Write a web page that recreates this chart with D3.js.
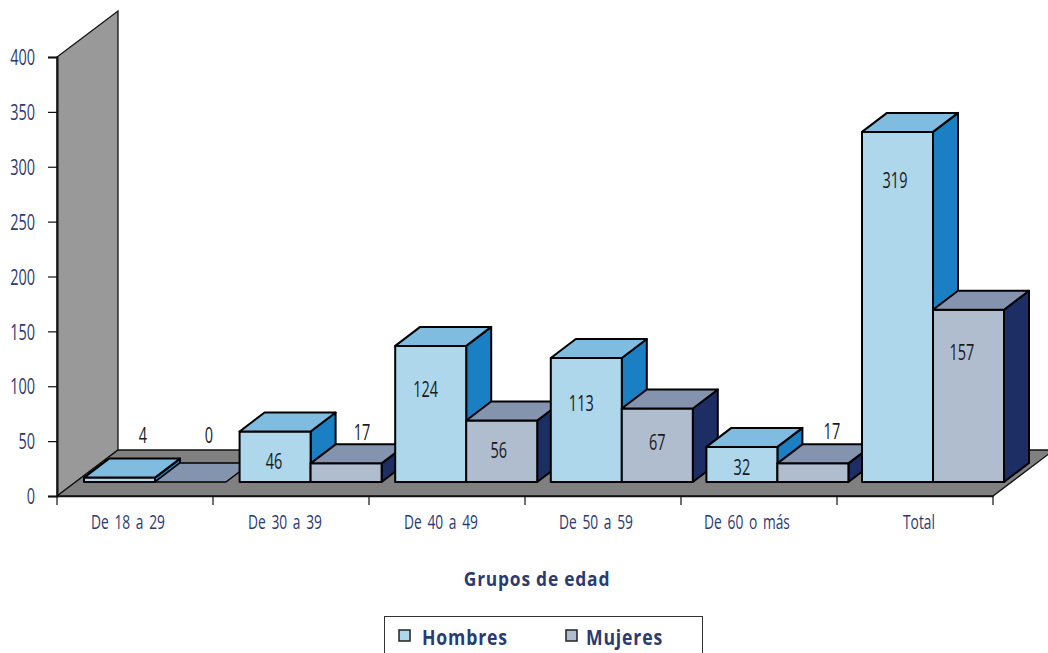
<!DOCTYPE html>
<html><head><meta charset="utf-8">
<script src="https://cdn.jsdelivr.net/npm/d3@7/dist/d3.min.js"></script>
<style>html,body{margin:0;padding:0;background:#fff;overflow:hidden}svg{display:block}
text{font-family:"Open Sans","Noto Sans",sans-serif}</style>
</head><body><svg id="c" width="1048" height="653"></svg>
<script>
const categories=["De 18 a 29","De 30 a 39","De 40 a 49","De 50 a 59","De 60 o más","Total"];
const hombres=[4,46,124,113,32,319];
const mujeres=[0,17,56,67,17,157];
const seriesNames=["Hombres","Mujeres"];
const yTicks=[0,50,100,150,200,250,300,350,400];
const axisTitle="Grupos de edad";

// layout
const depthX=61,depthY=46,barDX=25,barDY=19,lift=14,barW=71,narrow=0.69;
const labelNudgeH=[[23.5,-40],[-1,32],[-5,45],[-5,47],[0,23],[-2.5,50]];
const labelNudgeM=[[18.5,-45],[16,-29],[-3,32],[0,36],[19,-30],[-6.5,45]];
const catNudge=[-7,-6,-6,-7,-12,4];
const navy="#2b3b6f",ink="#1a1a1c";
const palette=[{front:"#aed7ec",top:"#7fbce0",side:"#1b80c3"},{front:"#b0bdcf",top:"#8494ae",side:"#1c2e64"}];

const svg=d3.select("#c");
const x=d3.scaleBand().domain(categories).range([57,993]);
const xBar=d3.scaleBand().domain(categories).range([84,84+155.6*6]);
const y=d3.scaleLinear().domain([0,400]).range([496,57]);
const pts=a=>a.map(p=>p.join(",")).join(" ");
// horizontal condensing about each text's own anchor point
const condense=(sel,sx)=>sel.each(function(){
  const t=d3.select(this),px=+t.attr("x")||0;
  t.attr("transform",`translate(${px},0) scale(${sx},1) translate(${-px},0)`);
});
const g=svg.append("g");
const x0=x.range()[0],x1=x.range()[1],y0=y(0),yT=y(400);

g.append("polygon").attr("points",pts([[x0,y0],[x0,yT],[x0+depthX,yT-depthY],[x0+depthX,y0-depthY]]))
 .attr("fill","#999").attr("stroke","#111").attr("stroke-width",1.3);
g.append("polygon").attr("points",pts([[x0,y0],[x1,y0],[x1+depthX,y0-depthY],[x0+depthX,y0-depthY]]))
 .attr("fill","#808080").attr("stroke","#111").attr("stroke-width",1.3);

// axes
const ay=d3.axisLeft(y).tickValues(yTicks).tickSize(9).tickPadding(13);
const gy=svg.append("g").attr("transform",`translate(${x0},0)`).call(ay);
gy.select(".domain").attr("stroke","#111").attr("stroke-width",2);
gy.selectAll("line").attr("stroke","#111").attr("stroke-width",1.2);
gy.selectAll("text").attr("fill",navy).attr("font-size",21).attr("y",1).attr("font-family",null).call(condense,narrow);

const ax=d3.axisBottom(x).tickSize(0).tickPadding(19);
const gx=svg.append("g").attr("transform",`translate(0,${y0})`).call(ax);
gx.select(".domain").attr("stroke","#111").attr("stroke-width",1.5);
gx.selectAll("text").attr("fill",navy).attr("font-size",20).attr("word-spacing",3).attr("dx",(d,i)=>catNudge[i]/narrow).attr("font-family",null).call(condense,narrow);
svg.append("g").selectAll("line").data([...categories.map(c=>x(c)),x1]).join("line")
 .attr("x1",d=>d).attr("x2",d=>d).attr("y1",y0).attr("y2",y0+9).attr("stroke","#111").attr("stroke-width",1.2);

// bars
const bars=svg.append("g").attr("stroke","#000").attr("stroke-width",2).attr("stroke-linejoin","round");
const base=y0-lift;
const lab=svg.append("g");
categories.forEach((c,i)=>{
  [hombres[i],mujeres[i]].forEach((v,s)=>{
    const l=xBar(c)+s*barW,r=l+barW,t=y(v)-lift,p=palette[s];
    if(t<base){
      bars.append("polygon").attr("points",pts([[r,t],[r+barDX,t-barDY],[r+barDX,base-barDY],[r,base]])).attr("fill",p.side);
      bars.append("polygon").attr("points",pts([[l,t],[r,t],[r,base],[l,base]])).attr("fill",p.front);
    }
    bars.append("polygon").attr("points",pts([[l,t],[l+barDX,t-barDY],[r+barDX,t-barDY],[r,t]])).attr("fill",p.top)
      .attr("stroke-width",v===0?1.5:2);
  });
});
categories.forEach((c,i)=>{
  [hombres[i],mujeres[i]].forEach((v,s)=>{
    const n=(s?labelNudgeM:labelNudgeH)[i];
    lab.append("text").attr("x",xBar(c)+s*barW+barW/2+n[0]).attr("y",y(v)-lift+n[1])
      .attr("text-anchor","middle").attr("dominant-baseline","middle").attr("fill",ink).attr("font-size",21).text(v)
      .call(condense,narrow);
  });
});

svg.append("text").attr("x",537).attr("y",586).attr("text-anchor","middle").attr("fill",navy)
 .attr("font-size",20).attr("font-weight",700).attr("letter-spacing",0.9).text(axisTitle).call(condense,0.87);

// legend
svg.append("rect").attr("x",384.5).attr("y",616.5).attr("width",318).attr("height",50).attr("fill","#fff").attr("stroke","#333").attr("stroke-width",1);
const legendX=[399,566],legendTextX=[422,586];
seriesNames.forEach((n,i)=>{
  svg.append("rect").attr("x",legendX[i]).attr("y",630).attr("width",11).attr("height",11)
    .attr("fill",palette[i].front).attr("stroke","#222").attr("stroke-width",1.5);
  svg.append("text").attr("x",legendTextX[i]).attr("y",645).attr("fill",navy).attr("font-size",21)
    .attr("font-weight",700).attr("letter-spacing",1).text(n).call(condense,0.84);
});
</script></body></html>
